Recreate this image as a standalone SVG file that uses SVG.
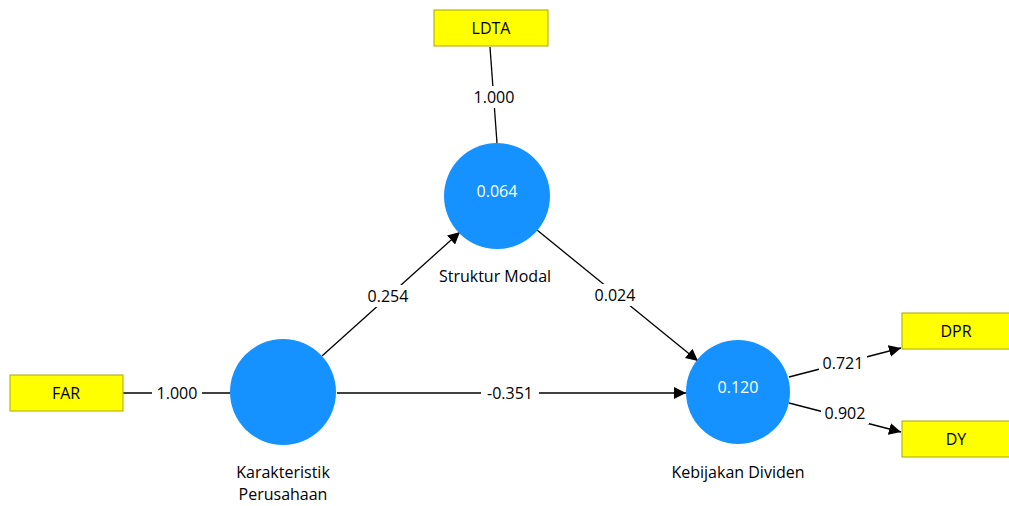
<svg xmlns="http://www.w3.org/2000/svg" width="1009" height="506" viewBox="0 0 1009 506">
<style>
text{font-family:"Open Sans","Noto Sans","Liberation Sans",sans-serif;font-size:16px;text-anchor:middle;dominant-baseline:central}
.ind rect{fill:#ffff00;stroke:#a8a800;stroke-width:1}
.ind text{fill:#000}
.lv circle{fill:#1592ff}
.lv .v{fill:#fff}
.lbl{fill:#000}
.c line{stroke:#000;stroke-width:1.3}
.w{fill:#fff}
</style>
<defs>
<marker id="ah" viewBox="0 0 10 10" refX="10" refY="5" markerWidth="12" markerHeight="12" markerUnits="userSpaceOnUse" orient="auto">
<path d="M0,0 L10,5 L0,10 z" fill="#000"/>
</marker>
</defs>
<rect width="1009" height="506" fill="#fff"/>
<g class="c" id="connectors">
<line x1="490" y1="47" x2="497" y2="143"/>
<line x1="123" y1="393" x2="230" y2="393"/>
<line x1="322" y1="356" x2="460" y2="232" marker-end="url(#ah)"/>
<line x1="537" y1="230" x2="698" y2="361" marker-end="url(#ah)"/>
<line x1="337" y1="393" x2="686" y2="393" marker-end="url(#ah)"/>
<line x1="789" y1="377" x2="901" y2="348" marker-end="url(#ah)"/>
<line x1="789" y1="403" x2="901" y2="432" marker-end="url(#ah)"/>
<rect class="w" x="469" y="86" width="50" height="22"/>
<text class="lbl" x="494" y="97">1.000</text>
<rect class="w" x="152" y="382" width="50" height="22"/>
<text class="lbl" x="177" y="393">1.000</text>
<rect class="w" x="364" y="285" width="48" height="22"/>
<text class="lbl" x="388" y="296">0.254</text>
<rect class="w" x="591" y="284" width="48" height="22"/>
<text class="lbl" x="615" y="295">0.024</text>
<rect class="w" x="481" y="382" width="58" height="22"/>
<text class="lbl" x="510" y="393">-0.351</text>
<rect class="w" x="819" y="352" width="48" height="22"/>
<text class="lbl" x="843" y="363">0.721</text>
<rect class="w" x="821" y="402" width="48" height="22"/>
<text class="lbl" x="845" y="413">0.902</text>
</g>
<g class="ind" id="LDTA"><rect x="434" y="10" width="114" height="36"/><text x="491" y="28">LDTA</text></g>
<g class="ind" id="FAR"><rect x="10" y="375" width="113" height="36"/><text x="66" y="393">FAR</text></g>
<g class="ind" id="DPR"><rect x="902" y="313" width="108" height="36"/><text x="956" y="331">DPR</text></g>
<g class="ind" id="DY"><rect x="902" y="421" width="108" height="36"/><text x="956" y="439">DY</text></g>
<g class="lv" id="StrukturModal"><circle cx="497" cy="196" r="53"/><text class="v" x="497" y="191">0.064</text><text class="lbl" x="495" y="276">Struktur Modal</text></g>
<g class="lv" id="KarakteristikPerusahaan"><circle cx="283" cy="392" r="53"/><text class="lbl" x="283" y="472">Karakteristik</text><text class="lbl" x="283" y="494">Perusahaan</text></g>
<g class="lv" id="KebijakanDividen"><circle cx="738" cy="392" r="52"/><text class="v" x="738" y="387">0.120</text><text class="lbl" x="738" y="472">Kebijakan Dividen</text></g>
</svg>
